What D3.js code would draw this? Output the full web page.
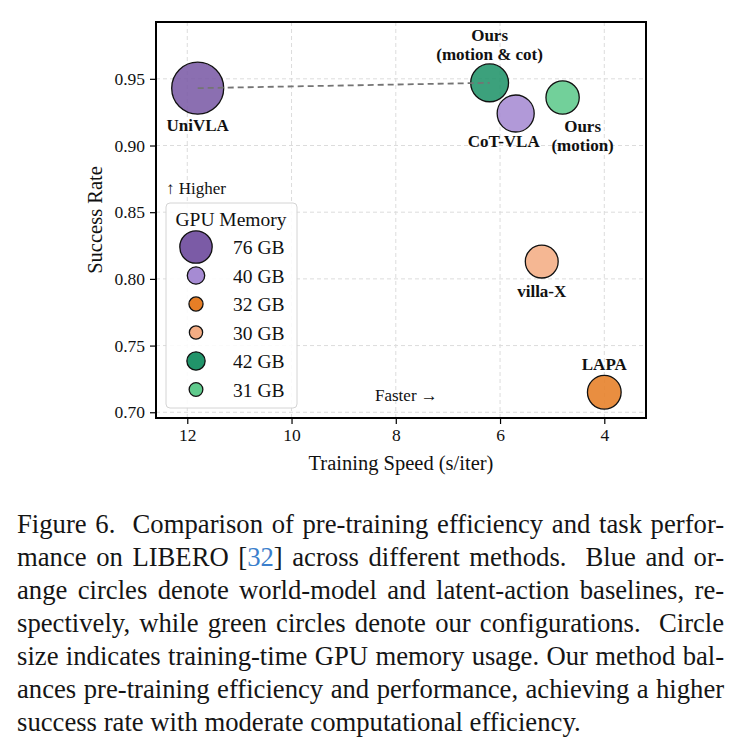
<!DOCTYPE html>
<html>
<head>
<meta charset="utf-8">
<script src="https://cdn.jsdelivr.net/npm/d3@7"></script>
<style>
body { margin: 0; background: #fff; }
#chart-area { position: absolute; left: 0; top: 0; }
#caption { position: absolute; left: 17px; top: 507px; width: 729px;
  transform: scaleX(0.97); transform-origin: 0 0;
  font-family: "Liberation Serif", "Times New Roman", serif; font-size: 27.5px;
  line-height: 33px; color: #151515; }
#caption div { text-align: justify; text-align-last: justify; white-space: nowrap; }
#caption div.last { text-align-last: left; }
#caption .ref { color: #3b7fcc; }
</style>
</head>
<body>
<div id="chart-area"></div>
<div id="caption"></div>
<script>
// data
var methods = ["UniVLA", "CoT-VLA", "LAPA", "villa-X", "Ours (motion & cot)", "Ours (motion)"];
var speed   = [11.8, 5.7, 4.0, 5.2, 6.2, 4.8];          // s/iter
var success = [0.943, 0.924, 0.715, 0.813, 0.947, 0.936];
var memory  = [76, 40, 32, 30, 42, 31];                  // GB
var colors  = ["#7b5ba6", "#a68bd3", "#e67e26", "#f4ad84", "#21946a", "#5fca8c"];
var xTicks  = [12, 10, 8, 6, 4];
var yTicks  = [0.70, 0.75, 0.80, 0.85, 0.90, 0.95];

// label lines + placement (offset from the point, px)
var labels = [
  {lines: ["UniVLA"], dx: 0, dy: 43},
  {lines: ["CoT-VLA"], dx: -12, dy: 34},
  {lines: ["LAPA"], dx: 0, dy: -22},
  {lines: ["villa-X"], dx: 0, dy: 35},
  {lines: ["Ours", "(motion & cot)"], dx: 0, dy: -42},
  {lines: ["Ours", "(motion)"], dx: 20, dy: 35}
];

var serif = "'Liberation Serif', 'Times New Roman', serif";

var margin = {left: 156, right: 94, top: 22, bottom: 72};
var width = 740 - margin.left - margin.right,
    height = 490 - margin.top - margin.bottom;

var points = methods.map(function(m, i) {
  return {name: m, speed: speed[i], success: success[i], mem: memory[i], color: colors[i], label: labels[i]};
});

var svg = d3.select("#chart-area")
  .append("svg")
    .attr("width", 740)
    .attr("height", 490)
    .style("font-family", serif);

var group = svg.append("g")
    .attr("transform", "translate(" + margin.left + "," + margin.top + ")");

// scales (x reversed: faster to the right)
var x = d3.scaleLinear().domain([12.6, 3.2]).range([0, width]);
var y = d3.scaleLinear().domain([0.6957, 0.9926]).range([height, 0]);
var r = d3.scaleLinear().domain([0, 76]).range([10.2, 26]);      // markers in plot
var rLeg = d3.scaleLinear().domain([0, 76]).range([0.4, 16.2]);  // markers in legend

// grid
group.selectAll(".gx").data(xTicks).enter().append("line")
  .attr("x1", function(d){ return x(d); }).attr("x2", function(d){ return x(d); })
  .attr("y1", 0).attr("y2", height)
  .attr("stroke", "#dcdcdc").attr("stroke-width", 1).attr("stroke-dasharray", "4,3");
group.selectAll(".gy").data(yTicks).enter().append("line")
  .attr("y1", function(d){ return y(d); }).attr("y2", function(d){ return y(d); })
  .attr("x1", 0).attr("x2", width)
  .attr("stroke", "#dcdcdc").attr("stroke-width", 1).attr("stroke-dasharray", "4,3");

// axes
var xAxisCall = d3.axisBottom(x).tickValues(xTicks).tickSize(6).tickPadding(5);
var xg = group.append("g")
  .attr("transform", "translate(0," + height + ")")
  .call(xAxisCall);
var yAxisCall = d3.axisLeft(y).tickValues(yTicks).tickSize(6).tickPadding(5)
  .tickFormat(d3.format(".2f"));
var yg = group.append("g").call(yAxisCall);
[xg, yg].forEach(function(g) {
  g.select(".domain").remove();
  g.selectAll("line").attr("stroke", "#000").attr("stroke-width", 1.2);
  g.selectAll("text").attr("font-family", serif).attr("font-size", "17.5px").attr("fill", "#111");
});

// connecting dashed line UniVLA -> Ours (motion & cot)
var a = points[0], b = points[4];

// bubbles
group.selectAll("circle.pt").data(points).enter().append("circle")
  .attr("class", "pt")
  .attr("cx", function(d){ return x(d.speed); })
  .attr("cy", function(d){ return y(d.success); })
  .attr("r", function(d){ return r(d.mem); })
  .attr("fill", function(d){ return d.color; })
  .attr("fill-opacity", 0.88)
  .attr("stroke", "#111")
  .attr("stroke-width", 1.3);

group.append("line")
  .attr("x1", x(a.speed)).attr("y1", y(a.success))
  .attr("x2", x(b.speed)).attr("y2", y(b.success))
  .attr("stroke", "#747474").attr("stroke-width", 1.8)
  .attr("stroke-dasharray", "6,4");

// point labels
points.forEach(function(d) {
  d.label.lines.forEach(function(line, i) {
    group.append("text")
      .attr("x", x(d.speed) + d.label.dx)
      .attr("y", y(d.success) + d.label.dy + i * 19)
      .attr("text-anchor", "middle")
      .attr("font-weight", "bold")
      .attr("font-size", "17px")
      .attr("fill", "#111")
      .text(line);
  });
});

// frame
group.append("rect")
  .attr("width", width).attr("height", height)
  .attr("fill", "none").attr("stroke", "#000").attr("stroke-width", 2);

// direction hints
group.append("text")
  .attr("x", 10).attr("y", 172)
  .attr("font-size", "17px").attr("fill", "#111")
  .text("\u2191 Higher");
group.append("text")
  .attr("x", 219).attr("y", 379)
  .attr("font-size", "17px").attr("fill", "#111")
  .text("Faster \u2192");

// axis labels
group.append("text")
  .attr("x", width / 2).attr("y", height + 52)
  .attr("text-anchor", "middle")
  .attr("font-size", "20.5px").attr("fill", "#111")
  .text("Training Speed (s/iter)");
group.append("text")
  .attr("x", -(height / 2)).attr("y", -54)
  .attr("text-anchor", "middle")
  .attr("transform", "rotate(-90)")
  .attr("font-size", "20.5px").attr("fill", "#111")
  .text("Success Rate");

// legend
var legend = group.append("g").attr("transform", "translate(10,181)");
legend.append("rect")
  .attr("width", 131).attr("height", 205)
  .attr("rx", 4).attr("ry", 4)
  .attr("fill", "#fff").attr("fill-opacity", 0.88)
  .attr("stroke", "#d4d4d4").attr("stroke-width", 1);
legend.append("text")
  .attr("x", 65).attr("y", 23)
  .attr("text-anchor", "middle")
  .attr("font-size", "19.5px").attr("fill", "#111")
  .text("GPU Memory");
var rows = legend.selectAll("g.row").data(points).enter().append("g")
  .attr("class", "row")
  .attr("transform", function(d, i){ return "translate(0," + (44 + i * 28.5) + ")"; });
rows.append("circle")
  .attr("cx", 30).attr("cy", 0)
  .attr("r", function(d){ return rLeg(d.mem); })
  .attr("fill", function(d){ return d.color; })
  .attr("stroke", "#111").attr("stroke-width", 1.3);
rows.append("text")
  .attr("x", 67).attr("y", 7)
  .attr("font-size", "19.5px").attr("fill", "#111")
  .text(function(d){ return d.mem + " GB"; });

// caption
var captionLines = [
  "Figure 6.\u00a0 Comparison of pre-training efficiency and task perfor-",
  "mance on LIBERO [<span class='ref'>32</span>] across different methods.\u00a0 Blue and or-",
  "ange circles denote world-model and latent-action baselines, re-",
  "spectively, while green circles denote our configurations.\u00a0 Circle",
  "size indicates training-time GPU memory usage. Our method bal-",
  "ances pre-training efficiency and performance, achieving a higher",
  "success rate with moderate computational efficiency."
];
d3.select("#caption").selectAll("div").data(captionLines).enter().append("div")
  .attr("class", function(d, i){ return i === captionLines.length - 1 ? "last" : null; })
  .html(function(d){ return d; });
</script>
</body>
</html>
